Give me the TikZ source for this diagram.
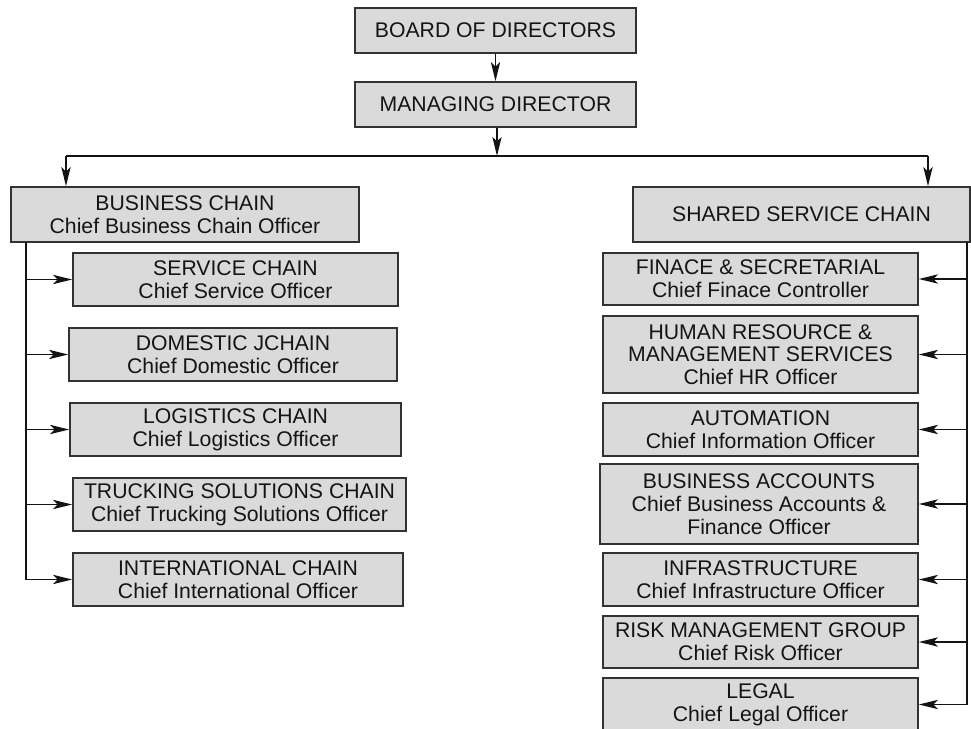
\documentclass[tikz,border=0pt]{standalone}
\usepackage{fontspec}
\setmainfont{Liberation Sans}
\usetikzlibrary{arrows.meta}
\definecolor{boxfill}{RGB}{218,218,218}
\definecolor{boxline}{RGB}{50,50,50}
\definecolor{inkc}{RGB}{20,20,20}
\tikzset{
  orgbox/.style={draw=boxline, fill=boxfill, line width=0.8pt, inner sep=0pt,
    align=center, text=inkc, font=\fontsize{10.6}{11.4}\selectfont},
  link/.style={draw=inkc, line width=0.75pt},
  arr/.style={link, -{Stealth[length=9.5pt, width=4.6pt, inset=2.2pt]}},
}
\begin{document}
\begin{tikzpicture}[x=0.5pt, y=-0.5pt]
\useasboundingbox (0,0) rectangle (971,729);
\clip (0,0) rectangle (971,729);

% top of the hierarchy
\node[orgbox, minimum width=140.5pt, minimum height=22.5pt] (board) at (495.5,30.5) {BOARD OF DIRECTORS};
\node[orgbox, minimum width=140.5pt, minimum height=22.5pt] (md) at (495.5,104.5) {MANAGING DIRECTOR};

% the two chains
\node[orgbox, minimum width=174pt, minimum height=27.5pt] (bc) at (185,214.5) {BUSINESS CHAIN\\Chief Business Chain Officer};
\node[orgbox, minimum width=168.5pt, minimum height=27.5pt] (ssc) at (801.5,214.5) {SHARED SERVICE CHAIN};

% business chain units
\node[orgbox, minimum width=162.5pt, minimum height=26.5pt] (svc) at (235.5,279.5) {SERVICE CHAIN\\Chief Service Officer};
\node[orgbox, minimum width=164pt, minimum height=26.5pt] (dom) at (233,354.5) {DOMESTIC JCHAIN\\Chief Domestic Officer};
\node[orgbox, minimum width=165.5pt, minimum height=26.5pt] (logi) at (235.5,429.5) {LOGISTICS CHAIN\\Chief Logistics Officer};
\node[orgbox, minimum width=166.5pt, minimum height=26.5pt] (trk) at (239.5,504.5) {TRUCKING SOLUTIONS CHAIN\\Chief Trucking Solutions Officer};
\node[orgbox, minimum width=165pt, minimum height=26.5pt] (intl) at (238,579.5) {INTERNATIONAL CHAIN\\Chief International Officer};

% shared service units
\node[orgbox, minimum width=157.5pt, minimum height=26pt] (fin) at (760.5,279) {FINACE \& SECRETARIAL\\Chief Finace Controller};
\node[orgbox, minimum width=157.5pt, minimum height=38.5pt] (hr) at (760.5,354.5) {HUMAN RESOURCE \&\\MANAGEMENT SERVICES\\Chief HR Officer};
\node[orgbox, minimum width=157.5pt, minimum height=26.5pt] (aut) at (760.5,429.5) {AUTOMATION\\Chief Information Officer};
\node[orgbox, minimum width=159pt, minimum height=40pt] (ba) at (759,504) {BUSINESS ACCOUNTS\\Chief Business Accounts \&\\Finance Officer};
\node[orgbox, minimum width=157.5pt, minimum height=26.5pt] (inf) at (760.5,579.5) {INFRASTRUCTURE\\Chief Infrastructure Officer};
\node[orgbox, minimum width=157.5pt, minimum height=26pt] (risk) at (760.5,642) {RISK MANAGEMENT GROUP\\Chief Risk Officer};
\node[orgbox, minimum width=157.5pt, minimum height=26.5pt] (legal) at (760.5,704.5) {LEGAL\\Chief Legal Officer};

% connectors at the top
\coordinate (hub) at (497,156);
\coordinate (hubL) at (66,156);
\coordinate (hubR) at (928,156);
\draw[arr] (board.south) -- (md.north);
\draw[arr] (md.south -| hub) -- (hub);
\draw[link] (hubL) -- (hubR);
\draw[arr] (hubL) -- (hubL |- bc.north);
\draw[arr] (hubR) -- (hubR |- ssc.north);

% business chain spine
\coordinate (lspine) at (26,242);
\coordinate (lend) at (26,579.5);
\draw[link] (lspine) -- (lend);
\foreach \n in {svc,dom,logi,trk,intl}
  \draw[arr] (lspine |- \n.west) -- (\n.west);

% shared service spine
\coordinate (rspine) at (967,242);
\coordinate (rend) at (967,704.5);
\draw[link] (rspine) -- (rend);
\foreach \n in {fin,hr,aut,ba,inf,risk,legal}
  \draw[arr] (rspine |- \n.east) -- (\n.east);
\end{tikzpicture}
\end{document}
